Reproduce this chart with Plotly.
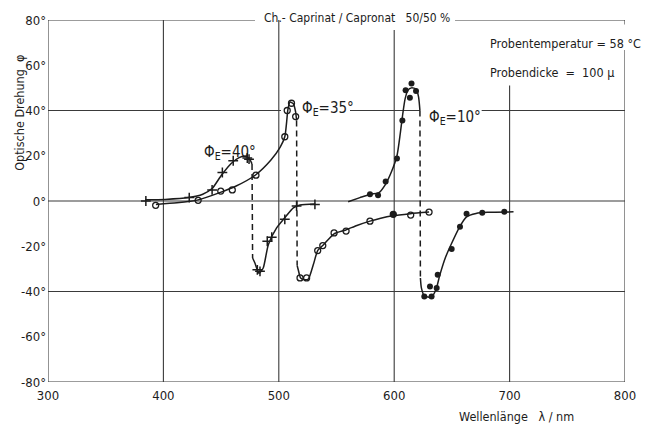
import plotly.graph_objects as go

# ---------------- data ----------------
# measured points
m40_x = [384.8, 422.4, 442.2, 451.1, 460.5, 472.7, 474.2, 481.4, 483.7, 490.0, 493.9, 505.2, 515.4, 531.3]
m40_y = [0, 1.5, 4.9, 12.6, 17.8, 19, 18.5, -30.4, -31.1, -17.8, -16, -8.1, -2.2, -1.5]

m35_x = [393.3, 430.1, 449.7, 459.7, 480.2, 505.2, 507.3, 511.0, 514.6, 518.4, 524.1, 533.7, 538.1, 547.9, 558.3, 579.0, 599.2, 614.3, 630.2]
m35_y = [-1.9, 0.3, 4.4, 4.9, 11.4, 28.4, 40, 43.2, 37.3, -34, -34, -21.9, -19.7, -14.1, -13.3, -8.9, -5.9, -6.2, -4.9]

m10_x = [579.0, 586.0, 592.6, 602.4, 607.1, 609.9, 613.6, 615.0, 618.9, 626.1, 631.0, 632.4, 636.8, 637.7, 649.8, 657.0, 662.7, 676.3, 695.4]
m10_y = [3, 2.5, 8.6, 18.8, 35.6, 49, 45.6, 51.9, 48.6, -42.2, -37.8, -42.2, -38.5, -32.6, -21.2, -11.4, -5.6, -5.2, -4.7]

# hand-drawn curves (solid parts)
c40a_x = [384.3, 401.6, 421.9, 434.1, 442.2, 450.4, 458.5, 465.6, 470.7, 474.8, 476.8]
c40a_y = [0.5, 0.7, 1.5, 3, 5.5, 11.5, 16.5, 19.2, 19.8, 18.5, 16.4]
c40b_x = [477.3, 479.3, 482.8, 486.5, 490.9, 498.1, 505.2, 512.6, 518.4, 531.7]
c40b_y = [-25.2, -27.4, -31.9, -29.6, -19.3, -11.9, -7.4, -3, -1.8, -1.3]

c35a_x = [393.5, 411.8, 430.1, 449.4, 462.6, 479.8, 493.0, 501.1, 505.2, 506.8, 507.9, 509.7, 512.6, 514.6, 515.4]
c35a_y = [-1.5, -0.8, 0.5, 3.8, 6.5, 11.5, 18, 23.7, 28.4, 35, 40.5, 43.7, 43, 39.3, 35.6]
c35b_x = [515.9, 516.9, 518.9, 522.5, 525.6, 530.0, 533.7, 538.1, 547.9, 558.1, 567.7, 579.0, 587.5, 598.7, 614.0, 630.2]
c35b_y = [-28.5, -30.5, -34, -34.8, -34.5, -28, -21.9, -19.7, -14.5, -12.8, -10.8, -8.9, -7.7, -6.5, -5.6, -4.9]

c10a_x = [560.1, 570.3, 579.4, 586.5, 592.6, 597.7, 602.4, 605.3, 607.3, 609.4, 611.9, 615.0, 619.0, 621.1, 622.3]
c10a_y = [-0.3, 1.5, 3, 3.6, 7.5, 13, 20, 30, 38, 45, 49, 50, 49.5, 46, 40]
c10b_x = [622.7, 623.6, 626.2, 632.2, 636.3, 639.4, 644.4, 649.5, 656.6, 662.7, 670.9, 680.8, 703.4]
c10b_y = [-34, -38.5, -42, -42.5, -39, -33, -25, -19, -11.5, -7, -5.5, -5, -4.8]

# dashed jumps
d40_x = [476.8, 477.3]
d40_y = [16.4, -25.2]
d35_x = [515.4, 515.9]
d35_y = [35.6, -28.5]
d10_x = [622.3, 622.7]
d10_y = [40, -34]

x_ticks = [300, 400, 500, 600, 700, 800]
x_ticktext = ["300", "400", "500", "600", "700", "800"]
y_ticks = [-80, -60, -40, -20, 0, 20, 40, 60, 80]
y_ticktext = ["-80°", "-60°", "-40°", "-20°", "0°", "20°", "40°", "60°", "80°"]

# ---------------- figure ----------------
INK = "#1c1c1c"
GRID = "#3a3a3a"
FONT = "DejaVu Sans Condensed, Liberation Sans Narrow, DejaVu Sans"

fig = go.Figure()

def curve(x, y):
    fig.add_trace(go.Scatter(x=x, y=y, mode="lines",
                             line=dict(color=INK, width=1.5, shape="spline", smoothing=0.6),
                             hoverinfo="skip", showlegend=False))

for cx, cy in [(c40a_x, c40a_y), (c40b_x, c40b_y), (c35a_x, c35a_y), (c35b_x, c35b_y), (c10a_x, c10a_y), (c10b_x, c10b_y)]:
    curve(cx, cy)
for dx, dy in [(d40_x, d40_y), (d35_x, d35_y), (d10_x, d10_y)]:
    fig.add_trace(go.Scatter(x=dx, y=dy, mode="lines",
                             line=dict(color=INK, width=1.5, dash="6px,4px"),
                             hoverinfo="skip", showlegend=False))

fig.add_trace(go.Scatter(x=m40_x, y=m40_y, mode="markers",
                         marker=dict(symbol="cross-thin", size=7, line=dict(color=INK, width=1.5)),
                         showlegend=False))
sym35 = ["circle-open"] * len(m35_x)
sym35[m35_x.index(599.2)] = "circle"
fig.add_trace(go.Scatter(x=m35_x, y=m35_y, mode="markers",
                         marker=dict(symbol=sym35, size=6, color=INK, line=dict(color=INK, width=1.3)),
                         showlegend=False))
fig.add_trace(go.Scatter(x=m10_x, y=m10_y, mode="markers",
                         marker=dict(symbol="circle", size=6, color=INK),
                         showlegend=False))

# frame and grid drawn as segments (the original has gaps where text sits)
segments = [
    (300, -80, 300, 80),
    (300, -80, 800, -80),
    (800, -80, 800, 66.7),
    (800, 78, 800, 80),
    (300, 80, 479.4, 80),
    (652.7, 80, 800, 80),
    (400, -80, 400, 80),
    (500, -80, 500, 80),
    (600, -80, 600, 75.6),
    (700, -80, 700, 51),
    (300, 0, 800, 0),
    (300, -40, 800, -40),
    (300, 40, 501.9, 40),
    (561.7, 40, 622.4, 40),
    (675.8, 40, 800, 40),
]
for x0, y0, x1, y1 in segments:
    fig.add_shape(type="line", x0=x0, y0=y0, x1=x1, y1=y1, xref="x", yref="y",
                  line=dict(color=GRID, width=1.1), layer="below")

ann_font = dict(family=FONT, size=12.5, color=INK)
phi_font = dict(family=FONT, size=15, color=INK)
fig.add_annotation(x=457.7, y=21.3, text="Φ<sub>E</sub>=40°", showarrow=False, font=phi_font)
fig.add_annotation(x=542.6, y=40.9, text="Φ<sub>E</sub>=35°", showarrow=False, font=phi_font)
fig.add_annotation(x=652.7, y=36.9, text="Φ<sub>E</sub>=10°", showarrow=False, font=phi_font)
fig.add_annotation(x=567.8, y=1.006, xref="x", yref="paper",
                   text="Ch.- Caprinat / Capronat   50/50 %", showarrow=False,
                   font=dict(family=FONT, size=12, color=INK), xanchor="center", yanchor="middle")
fig.add_annotation(x=681.3, y=69.8, xanchor="left", yanchor="middle", text="Probentemperatur = 58 °C",
                   showarrow=False, font=ann_font)
fig.add_annotation(x=681.3, y=56.9, xanchor="left", yanchor="middle", text="Probendicke  =  100 μ",
                   showarrow=False, font=ann_font)
fig.add_annotation(x=706.4, y=-0.094, xref="x", yref="paper", xanchor="center", yanchor="middle",
                   text="Wellenlänge   λ / nm", showarrow=False, font=ann_font)
fig.add_annotation(x=-0.0485, y=39, xref="paper", yref="y", xanchor="center", yanchor="middle",
                   text="Optische Drehung  φ", textangle=-90, showarrow=False, font=ann_font)

# the page offsets the figure by ~8px: shrink it so the plot area lands at the reference pixels
fig.update_layout(
    width=647, height=418,
    margin=dict(l=40, r=30, t=12, b=44),
    paper_bgcolor="white", plot_bgcolor="white",
    font=dict(family=FONT, size=13, color=INK),
    xaxis=dict(range=[300, 800], tickvals=x_ticks, ticktext=x_ticktext, showgrid=False,
               zeroline=False, showline=False, ticks="", ticklabelstandoff=4, automargin=False),
    yaxis=dict(range=[-80, 80], tickvals=y_ticks, ticktext=y_ticktext, showgrid=False,
               zeroline=False, showline=False, ticks="", ticklabelstandoff=1, automargin=False),
)

fig.write_html("out.html")
